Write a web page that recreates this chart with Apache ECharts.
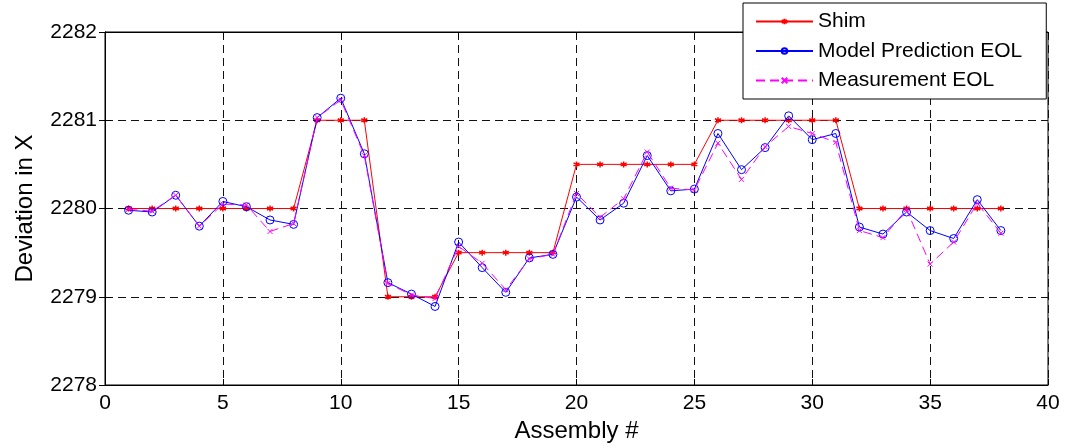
<!DOCTYPE html>
<html>
<head>
<meta charset="utf-8">
<script src="https://cdn.jsdelivr.net/npm/echarts@6/dist/echarts.min.js"></script>
<style>
html,body{margin:0;padding:0;background:#fff;}
#chart{width:1068px;height:448px;}
</style>
</head>
<body>
<div id="chart"></div>
<script>
const assembly = [1,2,3,4,5,6,7,8,9,10,11,12,13,14,15,16,17,18,19,20,21,22,23,24,25,26,27,28,29,30,31,32,33,34,35,36,37,38];
const shim = [2280,2280,2280,2280,2280,2280,2280,2280,2281,2281,2281,2279,2279,2279,2279.5,2279.5,2279.5,2279.5,2279.5,2280.5,2280.5,2280.5,2280.5,2280.5,2280.5,2281,2281,2281,2281,2281,2281,2280,2280,2280,2280,2280,2280,2280];
const modelEOL = [2279.98,2279.96,2280.15,2279.80,2280.08,2280.02,2279.87,2279.82,2281.03,2281.25,2280.62,2279.16,2279.03,2278.89,2279.62,2279.33,2279.05,2279.44,2279.48,2280.13,2279.87,2280.06,2280.60,2280.20,2280.22,2280.85,2280.44,2280.69,2281.05,2280.78,2280.85,2279.79,2279.71,2279.96,2279.75,2279.66,2280.10,2279.75];
const measEOL = [2279.99,2279.97,2280.15,2279.80,2280.05,2280.04,2279.74,2279.83,2281.03,2281.23,2280.60,2279.15,2279.02,2278.98,2279.57,2279.38,2279.08,2279.43,2279.48,2280.17,2279.90,2280.11,2280.64,2280.23,2280.21,2280.74,2280.33,2280.70,2280.93,2280.85,2280.75,2279.75,2279.67,2279.99,2279.37,2279.62,2280.06,2279.72];
const seriesNames = ['Shim','Model Prediction EOL','Measurement EOL'];
const xTitle = 'Assembly #';
const yTitle = 'Deviation in X';

const pairs = ys => assembly.map((x,i)=>[x, ys[i]]);
const FONT = 'Arial, "Liberation Sans", sans-serif';
const chart = echarts.init(document.getElementById('chart'));
const gridLine = {show:true, lineStyle:{color:'#111', type:[8,5], width:1}};
chart.setOption({
  animation:false,
  backgroundColor:'#fff',
  grid:{left:105, right:20, top:32, bottom:63, show:true, borderColor:'#000', borderWidth:1, backgroundColor:'#fff'},
  legend:{
    orient:'vertical', left:743, top:3,
    padding:[8,24,8,12], itemGap:8.5, itemWidth:57, itemHeight:7,
    borderColor:'#000', borderWidth:1, backgroundColor:'#fff',
    textStyle:{fontFamily:FONT, fontSize:21, color:'#000'},
    data:seriesNames, z:20
  },
  xAxis:[{
    type:'value', min:0, max:40, interval:5, position:'bottom',
    name:xTitle, nameLocation:'middle', nameGap:31,
    nameTextStyle:{fontFamily:FONT, fontSize:24, color:'#000'},
    axisLine:{show:true, lineStyle:{color:'#000'}},
    axisTick:{show:true, inside:true, length:6, lineStyle:{color:'#000'}},
    axisLabel:{fontFamily:FONT, fontSize:21, color:'#000', margin:8},
    splitLine:gridLine
  },{
    type:'value', min:0, max:40, interval:5, position:'top',
    axisLine:{show:true, lineStyle:{color:'#000'}},
    axisTick:{show:true, inside:true, length:6, lineStyle:{color:'#000'}},
    axisLabel:{show:false}, splitLine:{show:false}
  }],
  yAxis:[{
    type:'value', min:2278, max:2282, interval:1, position:'left',
    name:yTitle, nameLocation:'middle', nameGap:68,
    nameTextStyle:{fontFamily:FONT, fontSize:24, color:'#000'},
    axisLine:{show:true, lineStyle:{color:'#000'}},
    axisTick:{show:true, inside:true, length:6, lineStyle:{color:'#000'}},
    axisLabel:{fontFamily:FONT, fontSize:21, color:'#000', margin:8, formatter:v=>String(v)},
    splitLine:gridLine
  },{
    type:'value', min:2278, max:2282, interval:1, position:'right',
    axisLine:{show:true, lineStyle:{color:'#000'}},
    axisTick:{show:true, inside:true, length:6, lineStyle:{color:'#000'}},
    axisLabel:{show:false}, splitLine:{show:false}
  }],
  series:[{
    name:seriesNames[0], type:'line', data:pairs(shim),
    symbol:'path://M0,-10L0,10M-8.7,-5L8.7,5M-8.7,5L8.7,-5M-2,0L2,0',
    symbolSize:6,
    lineStyle:{color:'#ff0000', width:1},
    itemStyle:{color:'#ff0000', borderColor:'#ff0000', borderWidth:1.5},
    z:2
  },{
    name:seriesNames[1], type:'line', data:pairs(modelEOL),
    symbol:'circle', symbolSize:8,
    lineStyle:{color:'#0000ff', width:1},
    itemStyle:{color:'rgba(0,0,0,0)', borderColor:'#0000ff', borderWidth:1},
    z:3
  },{
    name:seriesNames[2], type:'line', data:pairs(measEOL),
    symbol:'path://M-10,-10L10,10M-10,10L10,-10',
    symbolSize:5,
    lineStyle:{color:'#ff00ff', width:1, type:[9,5]},
    itemStyle:{color:'#ff00ff', borderColor:'#ff00ff', borderWidth:1},
    z:4
  }]
});
</script>
</body>
</html>
